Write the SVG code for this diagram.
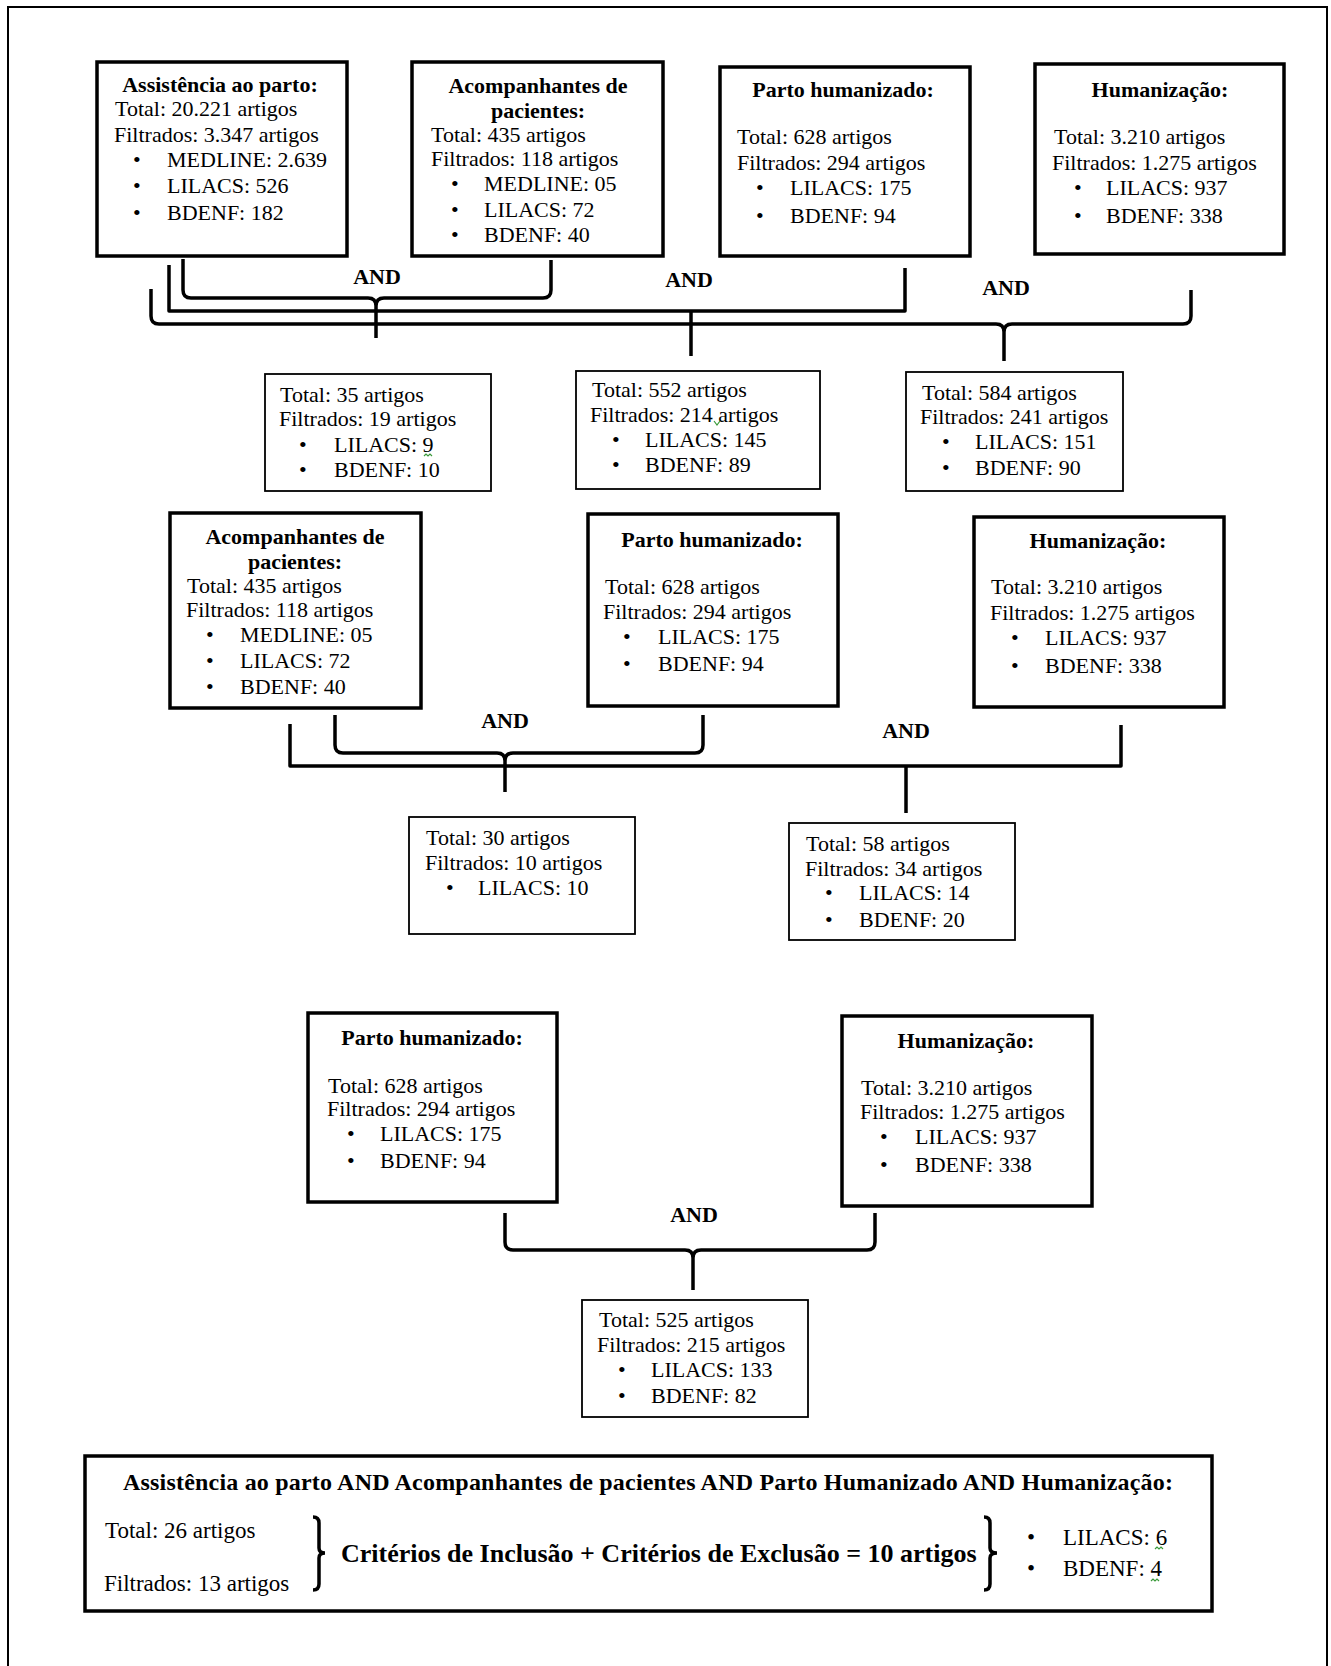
<svg xmlns="http://www.w3.org/2000/svg" width="1331" height="1666" viewBox="0 0 1331 1666">
<style>
.box{fill:#fff;stroke:#000;stroke-width:3.5}
.rbox{fill:#fff;stroke:#000;stroke-width:1.8}
text{font-family:"Liberation Serif","Times New Roman",serif;font-size:22px;fill:#000}
.b{font-weight:bold}
.c{text-anchor:middle}
.f{font-size:23px}
.conn path{fill:none;stroke:#000;stroke-width:3.5;stroke-linejoin:round}
.sq{fill:none;stroke:#3a9a3a;stroke-width:1.2}
</style>
<rect width="1331" height="1666" fill="#fff"/>
<path d="M8,1666 V7 H1327 V1666" fill="none" stroke="#000" stroke-width="2"/>

<g id="connectors" class="conn">
  <path d="M183,259 L183,290 Q183,298 191,298 L368,298 Q376,298 376,306 L376,338 M551,260 L551,290 Q551,298 543,298 L384,298 Q376,298 376,306"/>
  <path d="M169,265 V311 H905 V268 M691,311 V356"/>
  <path d="M151,289 L151,316 Q151,324 159,324 L996,324 Q1004,324 1004,332 L1004,361 M1191,290 L1191,316 Q1191,324 1183,324 L1012,324 Q1004,324 1004,332"/>
  <path d="M335,715 L335,745 Q335,753 343,753 L497,753 Q505,753 505,761 L505,792 M703,715 L703,745 Q703,753 695,753 L513,753 Q505,753 505,761"/>
  <path d="M290,724 V766 H1121 V725 M906,766 V813"/>
  <path d="M505,1213 L505,1242 Q505,1250 513,1250 L685,1250 Q693,1250 693,1258 L693,1290 M875,1213 L875,1242 Q875,1250 867,1250 L701,1250 Q693,1250 693,1258"/>
  <text class="b c" x="377" y="284">AND</text>
  <text class="b c" x="689" y="287">AND</text>
  <text class="b c" x="1006" y="295">AND</text>
  <text class="b c" x="505" y="728">AND</text>
  <text class="b c" x="906" y="738">AND</text>
  <text class="b c" x="694" y="1222">AND</text>
</g>

<g id="box-assistencia">
  <rect class="box" x="97" y="62" width="250" height="194"/>
  <text class="b c" x="220" y="92">Assistência ao parto:</text>
  <text x="115" y="116">Total: 20.221 artigos</text>
  <text x="114" y="142">Filtrados: 3.347 artigos</text>
  <text x="133" y="167">•</text><text x="167" y="167">MEDLINE: 2.639</text>
  <text x="133" y="193">•</text><text x="167" y="193">LILACS: 526</text>
  <text x="133" y="220">•</text><text x="167" y="220">BDENF: 182</text>
</g>

<g id="box-acompanhantes">
  <rect class="box" x="412" y="62" width="251" height="194"/>
  <text class="b c" x="538" y="93">Acompanhantes de</text>
  <text class="b c" x="538" y="118">pacientes:</text>
  <text x="431" y="142">Total: 435 artigos</text>
  <text x="431" y="166">Filtrados: 118 artigos</text>
  <text x="451" y="191">•</text><text x="484" y="191">MEDLINE: 05</text>
  <text x="451" y="217">•</text><text x="484" y="217">LILACS: 72</text>
  <text x="451" y="242">•</text><text x="484" y="242">BDENF: 40</text>
</g>

<g id="box-parto">
  <rect class="box" x="720" y="67" width="250" height="189"/>
  <text class="b c" x="843" y="97">Parto humanizado:</text>
  <text x="737" y="144">Total: 628 artigos</text>
  <text x="737" y="170">Filtrados: 294 artigos</text>
  <text x="756" y="195">•</text><text x="790" y="195">LILACS: 175</text>
  <text x="756" y="223">•</text><text x="790" y="223">BDENF: 94</text>
</g>

<g id="box-humanizacao">
  <rect class="box" x="1035" y="64" width="249" height="190"/>
  <text class="b c" x="1160" y="97">Humanização:</text>
  <text x="1054" y="144">Total: 3.210 artigos</text>
  <text x="1052" y="170">Filtrados: 1.275 artigos</text>
  <text x="1074" y="195">•</text><text x="1106" y="195">LILACS: 937</text>
  <text x="1074" y="223">•</text><text x="1106" y="223">BDENF: 338</text>
</g>

<g id="res-1">
  <rect class="rbox" x="265" y="374" width="226" height="117"/>
  <text x="280" y="402">Total: 35 artigos</text>
  <text x="279" y="426">Filtrados: 19 artigos</text>
  <text x="299" y="452">•</text><text x="334" y="452">LILACS: 9</text>
  <text x="299" y="477">•</text><text x="334" y="477">BDENF: 10</text>
  <path class="sq" d="M424,456 l2,-2 l2,2 l2,-2 l2,2"/>
</g>

<g id="res-2">
  <rect class="rbox" x="576" y="371" width="244" height="118"/>
  <text x="592" y="397">Total: 552 artigos</text>
  <text x="590" y="422">Filtrados: 214 artigos</text>
  <text x="612" y="447">•</text><text x="645" y="447">LILACS: 145</text>
  <text x="612" y="472">•</text><text x="645" y="472">BDENF: 89</text>
  <path class="sq" d="M714,421 l3,4 l3,-4"/>
</g>

<g id="res-3">
  <rect class="rbox" x="906" y="372" width="217" height="119"/>
  <text x="922" y="400">Total: 584 artigos</text>
  <text x="920" y="424">Filtrados: 241 artigos</text>
  <text x="942" y="449">•</text><text x="975" y="449">LILACS: 151</text>
  <text x="942" y="475">•</text><text x="975" y="475">BDENF: 90</text>
</g>

<g id="box-acompanhantes-2">
  <rect class="box" x="170" y="513" width="251" height="195"/>
  <text class="b c" x="295" y="544">Acompanhantes de</text>
  <text class="b c" x="295" y="569">pacientes:</text>
  <text x="187" y="593">Total: 435 artigos</text>
  <text x="186" y="617">Filtrados: 118 artigos</text>
  <text x="206" y="642">•</text><text x="240" y="642">MEDLINE: 05</text>
  <text x="206" y="668">•</text><text x="240" y="668">LILACS: 72</text>
  <text x="206" y="694">•</text><text x="240" y="694">BDENF: 40</text>
</g>

<g id="box-parto-2">
  <rect class="box" x="588" y="514" width="250" height="192"/>
  <text class="b c" x="712" y="547">Parto humanizado:</text>
  <text x="605" y="594">Total: 628 artigos</text>
  <text x="603" y="619">Filtrados: 294 artigos</text>
  <text x="623" y="644">•</text><text x="658" y="644">LILACS: 175</text>
  <text x="623" y="671">•</text><text x="658" y="671">BDENF: 94</text>
</g>

<g id="box-humanizacao-2">
  <rect class="box" x="974" y="517" width="250" height="190"/>
  <text class="b c" x="1098" y="548">Humanização:</text>
  <text x="991" y="594">Total: 3.210 artigos</text>
  <text x="990" y="620">Filtrados: 1.275 artigos</text>
  <text x="1011" y="645">•</text><text x="1045" y="645">LILACS: 937</text>
  <text x="1011" y="673">•</text><text x="1045" y="673">BDENF: 338</text>
</g>

<g id="res-4">
  <rect class="rbox" x="409" y="817" width="226" height="117"/>
  <text x="426" y="845">Total: 30 artigos</text>
  <text x="425" y="870">Filtrados: 10 artigos</text>
  <text x="446" y="895">•</text><text x="478" y="895">LILACS: 10</text>
</g>

<g id="res-5">
  <rect class="rbox" x="789" y="823" width="226" height="117"/>
  <text x="806" y="851">Total: 58 artigos</text>
  <text x="805" y="876">Filtrados: 34 artigos</text>
  <text x="825" y="900">•</text><text x="859" y="900">LILACS: 14</text>
  <text x="825" y="927">•</text><text x="859" y="927">BDENF: 20</text>
</g>

<g id="box-parto-3">
  <rect class="box" x="308" y="1013" width="249" height="189"/>
  <text class="b c" x="432" y="1045">Parto humanizado:</text>
  <text x="328" y="1093">Total: 628 artigos</text>
  <text x="327" y="1116">Filtrados: 294 artigos</text>
  <text x="347" y="1141">•</text><text x="380" y="1141">LILACS: 175</text>
  <text x="347" y="1168">•</text><text x="380" y="1168">BDENF: 94</text>
</g>

<g id="box-humanizacao-3">
  <rect class="box" x="842" y="1016" width="250" height="190"/>
  <text class="b c" x="966" y="1048">Humanização:</text>
  <text x="861" y="1095">Total: 3.210 artigos</text>
  <text x="860" y="1119">Filtrados: 1.275 artigos</text>
  <text x="880" y="1144">•</text><text x="915" y="1144">LILACS: 937</text>
  <text x="880" y="1172">•</text><text x="915" y="1172">BDENF: 338</text>
</g>

<g id="res-6">
  <rect class="rbox" x="582" y="1300" width="226" height="117"/>
  <text x="599" y="1327">Total: 525 artigos</text>
  <text x="597" y="1352">Filtrados: 215 artigos</text>
  <text x="618" y="1377">•</text><text x="651" y="1377">LILACS: 133</text>
  <text x="618" y="1403">•</text><text x="651" y="1403">BDENF: 82</text>
</g>

<g id="box-final">
  <rect class="box" x="85" y="1456" width="1127" height="155"/>
  <text class="b c" x="648" y="1490" style="font-size:24px" textLength="1050" lengthAdjust="spacing">Assistência ao parto AND Acompanhantes de pacientes AND Parto Humanizado AND Humanização:</text>
  <text class="f" x="105" y="1538">Total: 26 artigos</text>
  <text class="f" x="104" y="1591">Filtrados: 13 artigos</text>
  <path d="M313,1517 Q319,1517 319,1523 L319,1548 Q319,1553 325,1553 Q319,1553 319,1558 L319,1584 Q319,1590 313,1590" fill="none" stroke="#000" stroke-width="3.5"/>
  <text class="b" x="341" y="1562" style="font-size:26px">Critérios de Inclusão + Critérios de Exclusão = 10 artigos</text>
  <path d="M984,1517 Q990,1517 990,1523 L990,1548 Q990,1553 997,1553 Q990,1553 990,1558 L990,1584 Q990,1590 984,1590" fill="none" stroke="#000" stroke-width="3.5"/>
  <text class="f" x="1027" y="1545">•</text><text class="f" x="1063" y="1545">LILACS: 6</text>
  <text class="f" x="1027" y="1576">•</text><text class="f" x="1063" y="1576">BDENF: 4</text>
  <path class="sq" d="M1155,1549 l2,-2 l2,2 l2,-2 l2,2"/>
  <path class="sq" d="M1151,1581 l2,-2 l2,2 l2,-2 l2,2"/>
</g>
</svg>
